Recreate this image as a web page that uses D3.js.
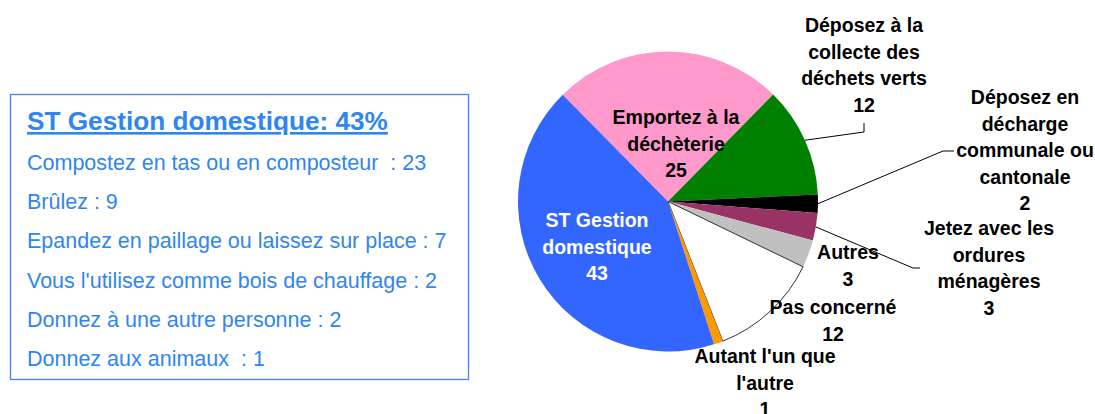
<!DOCTYPE html>
<html>
<head>
<meta charset="utf-8">
<script src="https://cdn.jsdelivr.net/npm/d3@7"></script>
<style>
  body { margin: 0; background: #fff; }
  text { font-family: "Liberation Sans", Arial, sans-serif; }
</style>
</head>
<body>
<script>
var svgWidth = 1095;
var svgHeight = 414;

// slice data, clockwise from the pink slice
var categories = ["Emportez à la déchèterie", "Déposez à la collecte des déchets verts",
  "Déposez en décharge communale ou cantonale", "Jetez avec les ordures ménagères",
  "Autres", "Pas concerné", "Autant l'un que l'autre", "ST Gestion domestique"];
var values = [25, 12, 2, 3, 3, 12, 1, 43];
var colors = ["#ff99cc", "#008000", "#000000", "#993366", "#c0c0c0", "#ffffff", "#ff9900", "#3366ff"];

// label lines for each slice
var labelLines = [
  ["Emportez à la", "déchèterie", "25"],
  ["Déposez à la", "collecte des", "déchets verts", "12"],
  ["Déposez en", "décharge", "communale ou", "cantonale", "2"],
  ["Jetez avec les", "ordures", "ménagères", "3"],
  ["Autres", "3"],
  ["Pas concerné", "12"],
  ["Autant l'un que", "l'autre", "1"],
  ["ST Gestion", "domestique", "43"]
];

// detail box
var boxTitle = "ST Gestion domestique: 43%";
var boxItems = ["Compostez en tas ou en composteur  : 23", "Brûlez : 9",
  "Epandez en paillage ou laissez sur place : 7", "Vous l'utilisez comme bois de chauffage : 2",
  "Donnez à une autre personne : 2", "Donnez aux animaux  : 1"];

var svg = d3.select("body")
  .append("svg")
  .attr("width", svgWidth)
  .attr("height", svgHeight);

// ---- box on the left
var box = svg.append("g");
box.append("rect")
  .attr("x", 10.5).attr("y", 94.5)
  .attr("width", 458).attr("height", 285)
  .attr("fill", "none")
  .attr("stroke", "#4f7cff")
  .attr("stroke-width", 1.3);

box.append("text")
  .attr("x", 27).attr("y", 130)
  .attr("fill", "#2f86f0")
  .attr("font-size", "26.2px")
  .attr("font-weight", "bold")
  .attr("text-decoration", "underline")
  .text(boxTitle);

box.selectAll(".item")
  .data(boxItems)
  .enter().append("text")
  .attr("class", "item")
  .attr("x", 27)
  .attr("y", function(d, i) { return 170 + i * 39.2; })
  .attr("fill", "#2f86f0")
  .attr("font-size", "21.5px")
  .style("white-space", "pre")
  .text(function(d) { return d; });

// ---- pie
var cx = 668, cy = 201.5, radius = 150;
var startDeg = -44.6;

var pie = d3.pie()
  .sort(null)
  .startAngle(startDeg * Math.PI / 180)
  .endAngle(startDeg * Math.PI / 180 + 2 * Math.PI);

var arcs = pie(values);
var arc = d3.arc().innerRadius(0).outerRadius(radius);

var g = svg.append("g").attr("transform", "translate(" + cx + "," + cy + ")");

g.selectAll(".slice")
  .data(arcs)
  .enter().append("path")
  .attr("class", "slice")
  .attr("d", arc)
  .attr("fill", function(d, i) { return colors[i]; })
  .attr("stroke", function(d, i) { return colors[i] === "#ffffff" ? "#000" : "none"; })
  .attr("stroke-width", 0.8);

function pointAt(angle, r) {
  return [Math.sin(angle) * r, -Math.cos(angle) * r];
}

// centre of each label's first line (relative to pie centre) and leader elbows
var labelPos = [
  { x: 8, y: -84.5 },
  { x: 196, y: -176.5 },
  { x: 357, y: -104.5 },
  { x: 321, y: 26.5 },
  { x: 180, y: 50.5 },
  { x: 165, y: 105.5 },
  { x: 97, y: 154.5 },
  { x: -71, y: 18.5 }
];
var leaders = [
  null,
  [[196, -78.5], [196, -69.5]],
  [[286, -50.5], [275, -50.5]],
  [[252, 66.5], [245, 66.5]],
  null, null, null, null
];

var lineH = 26.5;
arcs.forEach(function(a, i) {
  var lines = labelLines[i];
  var p = labelPos[i];
  var t = g.append("text")
    .attr("text-anchor", "middle")
    .attr("font-size", "19.5px")
    .attr("font-weight", "bold")
    .attr("fill", i === 7 ? "#fff" : "#000");
  lines.forEach(function(l, j) {
    t.append("tspan")
      .attr("x", p.x)
      .attr("y", p.y + j * lineH + 7)
      .text(l);
  });
  if (leaders[i]) {
    var mid = (a.startAngle + a.endAngle) / 2;
    var pts = leaders[i].concat([pointAt(mid, radius)]);
    g.append("path")
      .attr("d", d3.line()(pts))
      .attr("fill", "none")
      .attr("stroke", "#000")
      .attr("stroke-width", 1);
  }
});
</script>
</body>
</html>
